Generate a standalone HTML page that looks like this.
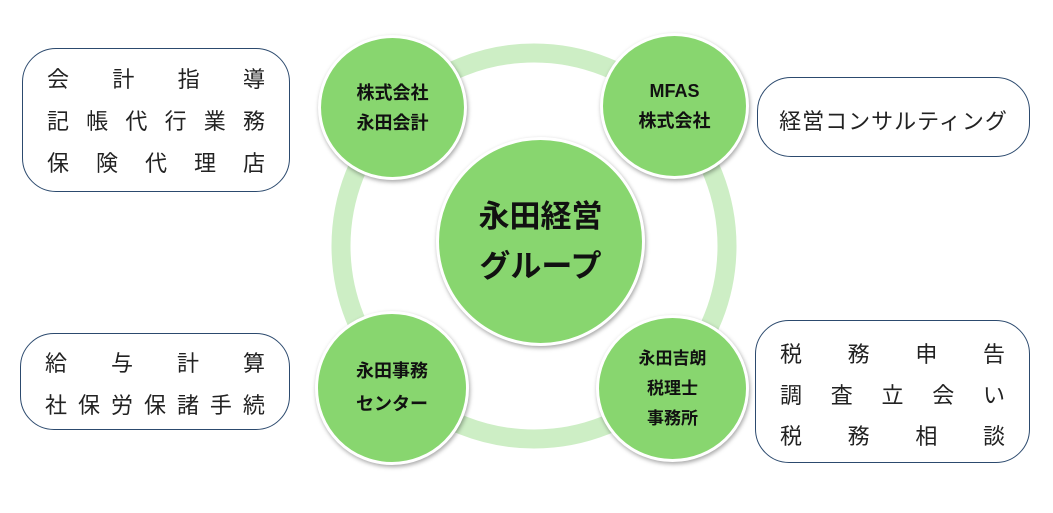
<!DOCTYPE html>
<html><head><meta charset="utf-8"><style>
body{margin:0;width:1053px;height:513px;background:#fff;position:relative;overflow:hidden;font-family:"Liberation Sans","Noto Sans CJK JP",sans-serif;}
.box{position:absolute;border:1.5px solid #2c4a6e;border-radius:34px;background:#fff;box-sizing:border-box;color:#222;font-size:22px;}
.row{position:absolute;left:24px;right:24px;display:flex;justify-content:space-between;}
.c{position:absolute;border-radius:50%;background:#88d66f;border:3px solid #fff;box-shadow:1px 2px 4px rgba(0,0,0,.35);box-sizing:border-box;display:flex;align-items:center;justify-content:center;text-align:center;font-weight:bold;color:#111;}
</style></head><body>
<svg width="1053" height="513" style="position:absolute;left:0;top:0"><circle cx="534" cy="246" r="193" fill="none" stroke="#cdeec5" stroke-width="19"/></svg>
<div class="c" style="left:436px;top:137px;width:209px;height:209px;font-size:31px;line-height:50px;">永田経営<br>グループ</div>
<div class="c" style="left:318px;top:35px;width:149px;height:145px;font-size:18px;line-height:30px;">株式会社<br>永田会計</div>
<div class="c" style="left:600px;top:33px;width:149px;height:146px;font-size:18px;line-height:30px;">MFAS<br>株式会社</div>
<div class="c" style="left:315px;top:311px;width:154px;height:154px;font-size:18px;line-height:33px;">永田事務<br>センター</div>
<div class="c" style="left:596px;top:315px;width:153px;height:147px;font-size:17px;line-height:30px;">永田吉朗<br>税理士<br>事務所</div>
<div class="box" style="left:22px;top:48px;width:268px;height:144px;">
<div class="row" style="top:13px"><span>会</span><span>計</span><span>指</span><span>導</span></div>
<div class="row" style="top:55px"><span>記</span><span>帳</span><span>代</span><span>行</span><span>業</span><span>務</span></div>
<div class="row" style="top:97px"><span>保</span><span>険</span><span>代</span><span>理</span><span>店</span></div></div>
<div class="box" style="left:757px;top:77px;width:273px;height:80px;"><div style="position:absolute;left:0;right:0;top:26px;text-align:center;letter-spacing:1px">経営コンサルティング</div></div>
<div class="box" style="left:20px;top:333px;width:270px;height:97px;">
<div class="row" style="top:12px"><span>給</span><span>与</span><span>計</span><span>算</span></div>
<div class="row" style="top:54px"><span>社</span><span>保</span><span>労</span><span>保</span><span>諸</span><span>手</span><span>続</span></div></div>
<div class="box" style="left:755px;top:320px;width:275px;height:143px;">
<div class="row" style="top:16px"><span>税</span><span>務</span><span>申</span><span>告</span></div>
<div class="row" style="top:57px"><span>調</span><span>査</span><span>立</span><span>会</span><span>い</span></div>
<div class="row" style="top:98px"><span>税</span><span>務</span><span>相</span><span>談</span></div></div>
</body></html>
